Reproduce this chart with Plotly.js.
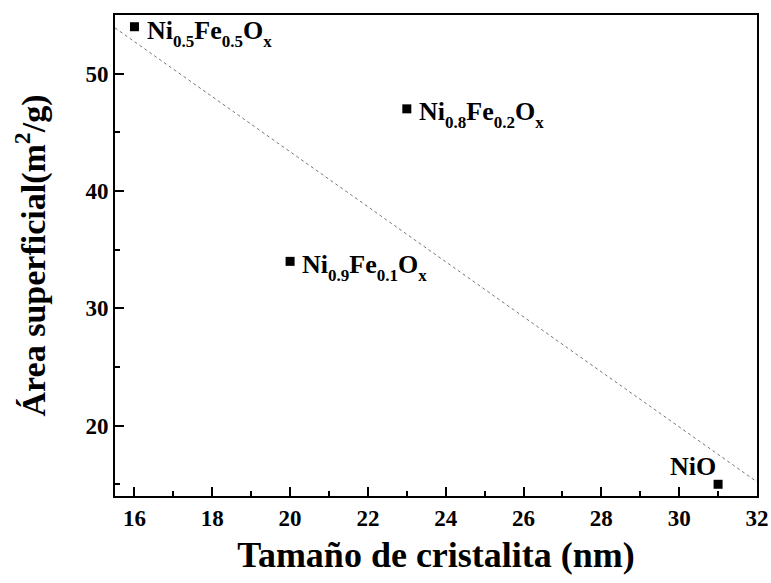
<!DOCTYPE html>
<html>
<head>
<meta charset="utf-8">
<script src="https://cdn.plot.ly/plotly-3.0.1.min.js"></script>
<style>
  html, body { margin: 0; padding: 0; background: #fff; }
  #chart { width: 771px; height: 583px; }
</style>
</head>
<body>
<div id="chart"></div>
<script>
// Crystallite size (nm) vs. specific surface area (m²/g) for each oxide
const sampleNames = [
  'Ni<sub>0.5</sub>Fe<sub>0.5</sub>O<sub>x</sub>',
  'Ni<sub>0.8</sub>Fe<sub>0.2</sub>O<sub>x</sub>',
  'Ni<sub>0.9</sub>Fe<sub>0.1</sub>O<sub>x</sub>',
  'NiO'
];
const crystalliteSize = [16, 23, 20, 31];
const surfaceArea = [54, 47, 34, 15];

// Linear trend line across the axis span
const trendX = [15.5, 32];
const trendY = [53.9, 15.2];

// Tick positions and labels
const xTickVals = [16, 18, 20, 22, 24, 26, 28, 30, 32];
const xTickText = ['16', '18', '20', '22', '24', '26', '28', '30', '32'];
const yTickVals = [20, 30, 40, 50];
const yTickText = ['20', '30', '40', '50'];

const FONT = 'Liberation Serif';
const bold = s => '<b>' + s + '</b>';
// deeper, smaller subscripts for the chemical formulas
const formula = s => s.replace(/<sub>(.*?)<\/sub>/g,
  '<span style="font-size:17px;baseline-shift:-8px">$1</span>');

const traces = [
  {
    x: trendX, y: trendY,
    mode: 'lines',
    line: { color: '#777', width: 1, dash: 'dot' },
    hoverinfo: 'skip',
    showlegend: false
  },
  {
    x: crystalliteSize, y: surfaceArea,
    mode: 'markers',
    marker: { symbol: 'square', size: 9, color: '#000' },
    showlegend: false
  }
];

// Label placement for each sample: anchor and pixel offsets
const labelStyle = [
  { xanchor: 'left',  yanchor: 'middle', xshift: 11, yshift: -7 },
  { xanchor: 'left',  yanchor: 'middle', xshift: 10, yshift: -6 },
  { xanchor: 'left',  yanchor: 'middle', xshift: 10, yshift: -6 },
  { xanchor: 'right', yanchor: 'bottom', xshift: 0,  yshift: 1 }
];

const annotations = sampleNames.map((name, i) => Object.assign({
  x: crystalliteSize[i], y: surfaceArea[i],
  xref: 'x', yref: 'y',
  text: bold(formula(name)),
  showarrow: false,
  font: { family: FONT, size: 26, color: '#000' }
}, labelStyle[i]));

const axisCommon = {
  showgrid: false,
  zeroline: false,
  showline: true,
  linecolor: '#000',
  linewidth: 2,
  mirror: true,
  ticks: 'inside',
  ticklen: 9,
  tickwidth: 2,
  tickcolor: '#000',
  tickmode: 'array',
  tickfont: { family: FONT, size: 23, color: '#000', weight: 'bold' }
};

const layout = {
  width: 771, height: 583,
  margin: { l: 115, r: 14, t: 15, b: 87 },
  paper_bgcolor: '#fff',
  plot_bgcolor: '#fff',
  font: { family: FONT, color: '#000' },
  xaxis: Object.assign({}, axisCommon, {
    range: [15.5, 32],
    tickvals: xTickVals,
    ticktext: xTickText,
    minor: { dtick: 1, tick0: 16, ticks: 'inside', ticklen: 5, tickwidth: 2, tickcolor: '#000' },
    title: { text: bold('Tamaño de cristalita (nm)'), font: { family: FONT, size: 36, color: '#000' }, standoff: 12 }
  }),
  yaxis: Object.assign({}, axisCommon, {
    range: [14, 55],
    tickvals: yTickVals,
    ticktext: yTickText,
    minor: { dtick: 5, tick0: 10, ticks: 'inside', ticklen: 5, tickwidth: 2, tickcolor: '#000' },
    title: { text: bold('Área superficial(m<sup>2</sup>/g)'), font: { family: FONT, size: 34, color: '#000' }, standoff: 30 }
  }),
  annotations: annotations
};

Plotly.newPlot('chart', traces, layout, { displayModeBar: false, staticPlot: true });
</script>
</body>
</html>
